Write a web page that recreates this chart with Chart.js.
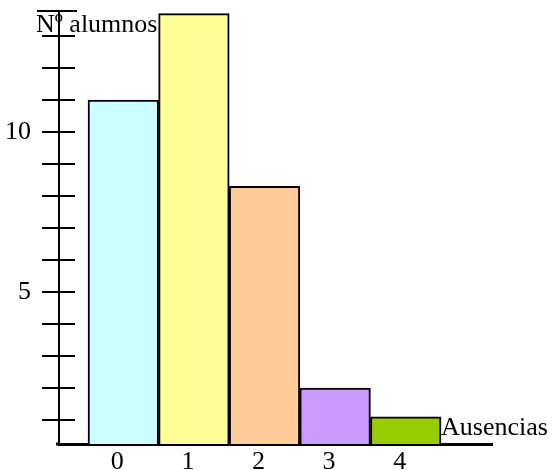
<!DOCTYPE html>
<html lang="es">
<head>
<meta charset="utf-8">
<title>Ausencias</title>
<script src="https://cdn.jsdelivr.net/npm/chart.js@4.4.1/dist/chart.umd.min.js"></script>
<style>
  html, body { margin: 0; padding: 0; background: #fff; }
  #wrap { width: 552px; height: 470px; }
</style>
</head>
<body>
<div id="wrap"><canvas id="grafico" width="552" height="470"></canvas></div>
<script>
// Datos
const ausencias = [0, 1, 2, 3, 4];
const alumnos = [11, 13.7, 8.3, 2, 1.1];
const colores = ['#ccffff', '#ffff99', '#ffcc99', '#cc99ff', '#99cc00'];
const etiquetasY = [5, 10];

const fuente = { family: "'Liberation Serif', 'Times New Roman', serif", size: 26 };

// Marcas del eje Y que cruzan la linea del eje + titulos de los ejes
const marcasEje = {
  id: 'marcasEje',
  afterDraw(chart) {
    const ctx = chart.ctx;
    const y = chart.scales.y;
    const area = chart.chartArea;
    ctx.save();
    ctx.strokeStyle = '#000';
    ctx.lineWidth = 2;
    y.ticks.forEach((t, i) => {
      const py = y.getPixelForTick(i);
      ctx.beginPath();
      ctx.moveTo(area.left - 17, py);
      ctx.lineTo(area.left + 16, py);
      ctx.stroke();
    });
    // tope del eje
    ctx.beginPath();
    ctx.moveTo(area.left - 22, area.top - 1);
    ctx.lineTo(area.left + 18, area.top - 1);
    ctx.stroke();
    // el eje X asoma un poco a la izquierda
    ctx.lineWidth = 3;
    ctx.beginPath();
    ctx.moveTo(area.left - 3, area.bottom);
    ctx.lineTo(area.left, area.bottom);
    ctx.stroke();

    ctx.fillStyle = '#000';
    ctx.font = fuente.size + 'px ' + fuente.family;
    ctx.textBaseline = 'alphabetic';
    ctx.textAlign = 'left';
    ctx.fillText('Nº alumnos', area.left - 23, area.top + 20);
    ctx.fillText('Ausencias', area.right - 51, area.bottom - 9);
    ctx.restore();
  }
};

const datos = ausencias.map((a, i) => ({ x: a, y: alumnos[i] }));

new Chart(document.getElementById('grafico'), {
  type: 'bar',
  data: {
    datasets: [{
      data: datos,
      backgroundColor: colores,
      borderColor: '#000',
      borderWidth: 2,
      borderSkipped: false,
      barPercentage: 1,
      categoryPercentage: 1
    }]
  },
  options: {
    responsive: false,
    animation: false,
    devicePixelRatio: 1,
    layout: { padding: { top: 12, right: 60, left: 0, bottom: 0 } },
    plugins: {
      legend: { display: false },
      tooltip: { enabled: false }
    },
    scales: {
      x: {
        type: 'linear',
        offset: false,
        min: -0.911,
        max: 5.222,
        grid: { display: false, drawTicks: false, offset: false },
        border: { display: true, color: '#000', width: 3 },
        ticks: {
          stepSize: 1,
          includeBounds: false,
          color: '#000',
          font: fuente,
          padding: 3,
          maxRotation: 0,
          autoSkip: false,
          labelOffset: -6,
          callback: v => ausencias.includes(v) ? String(v) : ''
        },
        afterFit: s => { s.height = 26; s.paddingLeft = 0; s.paddingRight = 0; }
      },
      y: {
        min: 0.25,
        max: 13.75,
        grid: { display: false },
        border: { display: true, color: '#000', width: 2 },
        ticks: {
          stepSize: 1,
          includeBounds: false,
          color: '#000',
          font: fuente,
          padding: 20,
          autoSkip: false,
          callback: v => etiquetasY.includes(v) ? String(v) : ''
        },
        afterFit: s => { s.width = 59; s.paddingTop = 0; s.paddingBottom = 0; }
      }
    }
  },
  plugins: [marcasEje]
});
</script>
</body>
</html>
